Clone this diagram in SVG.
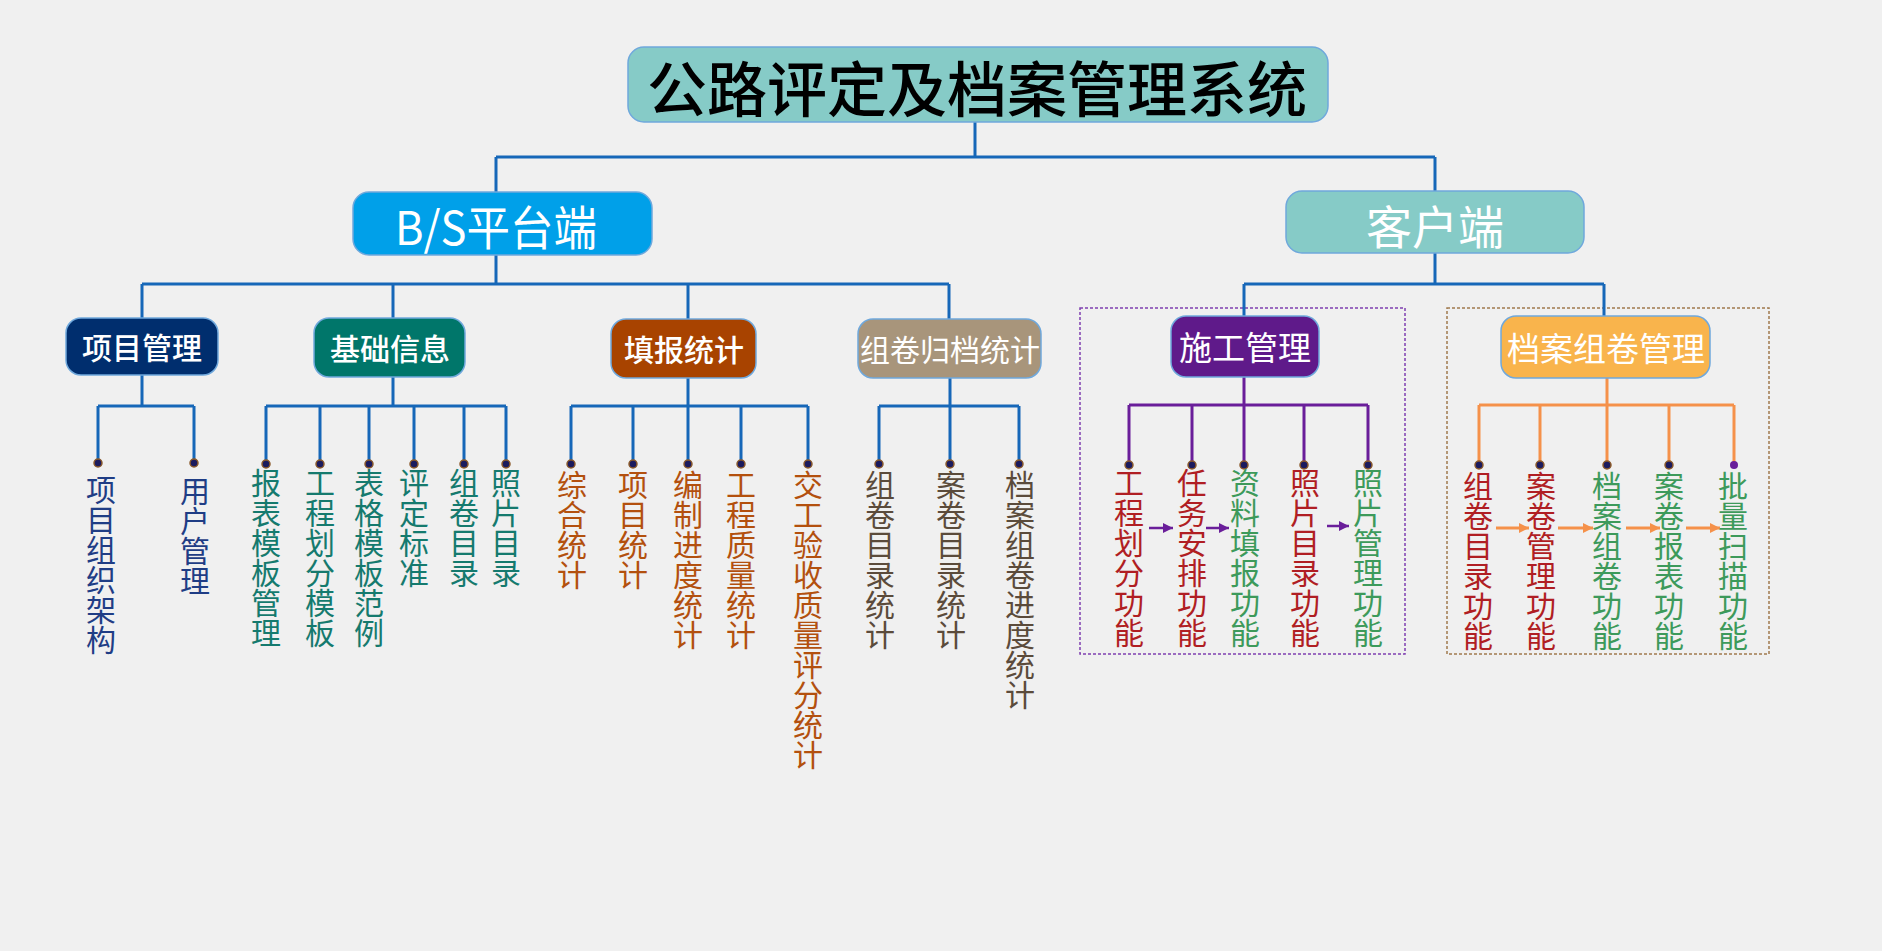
<svg xmlns="http://www.w3.org/2000/svg" width="1882" height="951" viewBox="0 0 1882 951">
<defs>
<style>
text{font-family:"Noto Sans CJK SC","Noto Sans CJK TC",sans-serif;}
.box{stroke:#6FA8DC;stroke-width:1.5;}
.bt{fill:#fff;text-anchor:middle;dominant-baseline:central;}
.ln{fill:none;stroke:#1667B8;stroke-width:3;}
.lp{fill:none;stroke:#6A1E9A;stroke-width:3;}
.lo{fill:none;stroke:#F5914A;stroke-width:3;}
.dot{fill:#1B1B5E;stroke:#8B5A2B;stroke-width:1.5;}
.v{writing-mode:vertical-rl;font-size:30px;}
.navy{fill:#1F3D85;}
.teal{fill:#157A6E;}
.org{fill:#B3500E;}
.brn{fill:#5B4B3B;}
.red{fill:#B01E23;}
.grn{fill:#3D9A5B;}
.ap{stroke:#6A1E9A;stroke-width:2.5;marker-end:url(#mp);}
.ao{stroke:#F5914A;stroke-width:3;marker-end:url(#mo);}
</style>
<marker id="mp" viewBox="0 0 10 10" refX="10" refY="5" markerWidth="4" markerHeight="4" orient="auto" markerUnits="strokeWidth"><path d="M0,0L10,5L0,10z" fill="#6A1E9A"/></marker>
<marker id="mo" viewBox="0 0 10 10" refX="10" refY="5" markerWidth="3.5" markerHeight="3.5" orient="auto" markerUnits="strokeWidth"><path d="M0,0L10,5L0,10z" fill="#F5914A"/></marker>
</defs>
<rect x="0" y="0" width="1882" height="951" fill="#F0F0F0"/>

<g id="frames">
<rect x="1080" y="308" width="325" height="346" fill="none" stroke="#7F3FB0" stroke-width="1.5" stroke-dasharray="3 2"/>
<rect x="1447" y="308" width="322" height="346" fill="none" stroke="#A07A4E" stroke-width="1.5" stroke-dasharray="3 2"/>
</g>

<g id="connectors">
<path class="ln" d="M975,122V157M496,157H1435M496,157V192M1435,157V191"/>
<path class="ln" d="M496,255V284M142,284H949M142,284V318M393,284V318M688,284V319M949,284V319"/>
<path class="ln" d="M1435,253V284M1244,284H1604M1244,284V316M1604,284V316"/>
<path class="ln" d="M142,375V406M98,406H194M98,406V463M194,406V463"/>
<path class="ln" d="M393,377V406M266,406H506M266,406V464M320,406V464M369,406V464M414,406V464M464,406V464M506,406V464"/>
<path class="ln" d="M688,378V406M571,406H808M571,406V464M633,406V464M688,406V464M741,406V464M808,406V464"/>
<path class="ln" d="M950,378V406M879,406H1019M879,406V464M950,406V464M1019,406V464"/>
<path class="lp" d="M1244,377V405M1129,405H1368M1129,405V465M1192,405V465M1244,405V465M1304,405V465M1368,405V465"/>
<path class="lo" d="M1607,378V405M1479,405H1734M1479,405V465M1540,405V465M1607,405V465M1669,405V465M1734,405V465"/>
<g>
<circle class="dot" cx="98" cy="463" r="4"/><circle class="dot" cx="194" cy="463" r="4"/>
<circle class="dot" cx="266" cy="464" r="4"/><circle class="dot" cx="320" cy="464" r="4"/><circle class="dot" cx="369" cy="464" r="4"/><circle class="dot" cx="414" cy="464" r="4"/><circle class="dot" cx="464" cy="464" r="4"/><circle class="dot" cx="506" cy="464" r="4"/>
<circle class="dot" cx="571" cy="464" r="4"/><circle class="dot" cx="633" cy="464" r="4"/><circle class="dot" cx="688" cy="464" r="4"/><circle class="dot" cx="741" cy="464" r="4"/><circle class="dot" cx="808" cy="464" r="4"/>
<circle class="dot" cx="879" cy="464" r="4"/><circle class="dot" cx="950" cy="464" r="4"/><circle class="dot" cx="1019" cy="464" r="4"/>
<circle class="dot" cx="1129" cy="465" r="4"/><circle class="dot" cx="1192" cy="465" r="4"/><circle class="dot" cx="1244" cy="465" r="4"/><circle class="dot" cx="1304" cy="465" r="4"/><circle class="dot" cx="1368" cy="465" r="4"/>
<circle class="dot" cx="1479" cy="465" r="4"/><circle class="dot" cx="1540" cy="465" r="4"/><circle class="dot" cx="1607" cy="465" r="4"/><circle class="dot" cx="1669" cy="465" r="4"/><circle cx="1734" cy="465" r="4" fill="#6A1E9A"/>
</g>
<line class="ap" x1="1149" y1="528" x2="1173" y2="528"/>
<line class="ap" x1="1206" y1="528" x2="1229" y2="528"/>
<line class="ap" x1="1327" y1="526" x2="1349" y2="526"/>
<line class="ao" x1="1496" y1="528" x2="1529" y2="528"/>
<line class="ao" x1="1558" y1="528" x2="1593" y2="528"/>
<line class="ao" x1="1626" y1="528" x2="1660" y2="528"/>
<line class="ao" x1="1686" y1="528" x2="1720" y2="528"/>
</g>

<g id="root">
<rect class="box" x="628" y="47" width="700" height="75" rx="16" fill="#86CBC7"/>
<text x="977" y="85" font-size="60" font-weight="500" fill="#000" text-anchor="middle" dominant-baseline="central">公路评定及档案管理系统</text>
</g>
<g id="bs">
<rect class="box" x="353" y="192" width="299" height="63" rx="16" fill="#00A0E9"/>
<text class="bt" x="496" y="224" font-size="47" textLength="202" lengthAdjust="spacingAndGlyphs">B/S平台端</text>
</g>
<g id="client">
<rect class="box" x="1286" y="191" width="298" height="62" rx="16" fill="#86CBC7"/>
<text class="bt" x="1435" y="224" font-size="46">客户端</text>
</g>

<g id="xmgl">
<rect class="box" x="66" y="318" width="152" height="57" rx="15" fill="#002E6E"/>
<text class="bt" x="142" y="346" font-size="30" font-weight="500">项目管理</text>
</g>
<g id="jcxx">
<rect class="box" x="314" y="318" width="151" height="59" rx="15" fill="#00766A"/>
<text class="bt" x="390" y="347" font-size="30" font-weight="500">基础信息</text>
</g>
<g id="tbtj">
<rect class="box" x="611" y="319" width="145" height="59" rx="15" fill="#A84300"/>
<text class="bt" x="684" y="348" font-size="30" font-weight="500">填报统计</text>
</g>
<g id="zjgdtj">
<rect class="box" x="858" y="319" width="183" height="59" rx="15" fill="#A8957B"/>
<text class="bt" x="950" y="348" font-size="30">组卷归档统计</text>
</g>
<g id="sggl">
<rect class="box" x="1171" y="316" width="148" height="61" rx="15" fill="#5F1A8A"/>
<text class="bt" x="1245" y="346" font-size="33">施工管理</text>
</g>
<g id="dazjgl">
<rect class="box" x="1501" y="316" width="209" height="62" rx="15" fill="#F9B44C"/>
<text class="bt" x="1606" y="347" font-size="33">档案组卷管理</text>
</g>

<g id="xmgl-items">
<text class="v navy" x="101" y="475">项目组织架构</text>
<text class="v navy" x="195" y="476">用户管理</text>
</g>
<g id="jcxx-items">
<text class="v teal" x="266" y="468">报表模板管理</text>
<text class="v teal" x="320" y="468">工程划分模板</text>
<text class="v teal" x="369" y="468">表格模板范例</text>
<text class="v teal" x="414" y="468">评定标准</text>
<text class="v teal" x="464" y="468">组卷目录</text>
<text class="v teal" x="506" y="468">照片目录</text>
</g>
<g id="tbtj-items">
<text class="v org" x="572" y="470">综合统计</text>
<text class="v org" x="633" y="470">项目统计</text>
<text class="v org" x="688" y="470">编制进度统计</text>
<text class="v org" x="741" y="470">工程质量统计</text>
<text class="v org" x="808" y="470">交工验收质量评分统计</text>
</g>
<g id="zjgdtj-items">
<text class="v brn" x="880" y="470">组卷目录统计</text>
<text class="v brn" x="951" y="470">案卷目录统计</text>
<text class="v brn" x="1020" y="470">档案组卷进度统计</text>
</g>
<g id="sggl-items">
<text class="v red" x="1129" y="468">工程划分功能</text>
<text class="v red" x="1192" y="468">任务安排功能</text>
<text class="v grn" x="1245" y="468">资料填报功能</text>
<text class="v red" x="1305" y="468">照片目录功能</text>
<text class="v grn" x="1368" y="468">照片管理功能</text>
</g>
<g id="dazjgl-items">
<text class="v red" x="1478" y="471">组卷目录功能</text>
<text class="v red" x="1541" y="471">案卷管理功能</text>
<text class="v grn" x="1607" y="471">档案组卷功能</text>
<text class="v grn" x="1669" y="471">案卷报表功能</text>
<text class="v grn" x="1733" y="471">批量扫描功能</text>
</g>
</svg>
